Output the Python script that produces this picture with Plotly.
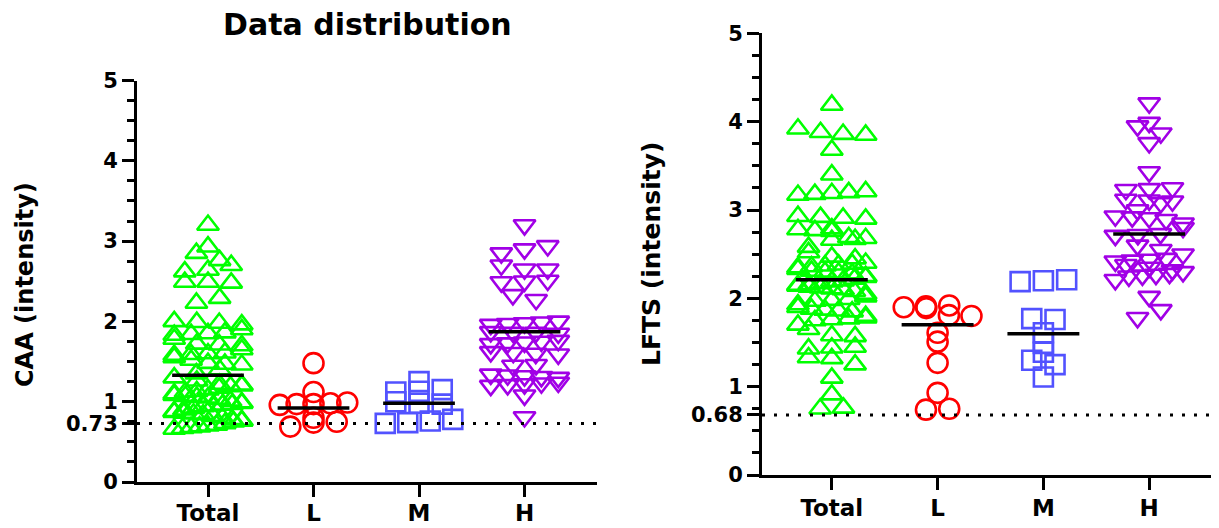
import numpy as np
import plotly.graph_objects as go

categories = ["Total", "L", "M", "H"]

caa_total = [3.20, 2.93, 2.85, 2.76, 2.70, 2.64, 2.62, 2.49, 2.48, 2.49, 2.29, 2.23,
             1.98, 1.96, 1.99, 2.00, 1.84, 1.85, 1.83, 1.86, 1.71, 1.70, 1.72,
             1.59, 1.60, 1.58, 1.61, 1.47, 1.46, 1.48,
             1.20, 1.21, 1.19, 1.22, 1.07, 1.08, 1.06, 0.97, 0.98, 0.96, 0.99,
             0.87, 0.88, 0.86, 0.76, 0.77, 0.75, 0.67, 0.68, 0.66,
             1.15, 1.12, 1.10, 1.03, 1.01, 0.94, 0.92, 0.90, 0.84, 0.82, 0.80,
             0.73, 0.71, 0.70, 0.69, 1.26, 1.30, 1.35, 1.40, 1.52, 1.55, 1.65,
             1.78, 1.90, 0.95, 0.85, 0.78, 1.05, 1.13, 1.17]
caa_L = [1.48, 1.12, 0.99, 0.97, 0.98, 0.96, 0.97, 0.80, 0.75, 0.74, 0.69]
caa_M = [1.25, 1.15, 1.13, 1.12, 1.00, 0.98, 0.97, 0.78, 0.76, 0.74, 0.73]
caa_H = [3.20, 2.94, 2.90, 2.85, 2.70, 2.65, 2.65, 2.50, 2.51, 2.49, 2.33, 2.27,
         1.98, 1.97, 1.99, 2.00, 1.96, 1.86, 1.87, 1.85, 1.86, 1.74, 1.75, 1.73,
         1.72, 1.76, 1.60, 1.61, 1.59, 1.62, 1.45, 1.46, 1.32, 1.31, 1.33, 1.30,
         1.34, 1.22, 1.21, 1.23, 1.20, 1.24, 1.08, 0.81]
caa_means = [1.33, 0.92, 0.98, 1.87]
caa_cutoff = 0.73

lfts_total = [4.19, 3.92, 3.88, 3.86, 3.85, 3.68, 3.40, 3.21, 3.19, 3.18, 3.20, 3.17,
              2.92, 2.91, 2.90, 2.93, 2.77, 2.78, 2.76, 2.79, 2.68, 2.67, 2.69, 2.66,
              2.58, 2.47, 2.38, 2.39, 2.37, 2.40, 2.36, 2.29, 2.30, 2.28, 2.31,
              2.15, 2.16, 2.14, 2.17, 2.13, 1.98, 1.99, 1.97, 1.86, 1.87, 1.85, 1.88,
              1.76, 1.77, 1.75, 1.78, 1.57, 1.58, 1.44, 1.45, 1.43, 1.32, 1.33,
              1.25, 1.10, 0.91, 0.75, 0.76,
              2.22, 2.20, 2.24, 2.25, 2.10, 2.08, 2.05, 2.02, 1.93, 1.90, 2.33,
              2.35, 2.19, 2.11, 1.80, 1.70, 1.65, 2.45, 2.52, 2.12]
lfts_L = [1.91, 1.92, 1.90, 1.89, 1.80, 1.81, 1.61, 1.51, 1.27, 0.93, 0.74, 0.75]
lfts_M = [2.20, 2.21, 2.19, 1.77, 1.76, 1.61, 1.49, 1.39, 1.25, 1.30, 1.11]
lfts_H = [4.21, 3.99, 3.95, 3.87, 3.76, 3.43, 3.24, 3.25, 3.23, 3.11, 3.10, 3.12,
          3.08, 2.92, 2.93, 2.91, 2.89, 2.85, 2.72, 2.71, 2.73, 2.43, 2.44, 2.42,
          2.45, 2.26, 2.27, 2.25, 2.28, 2.32, 2.21, 2.02, 1.87, 1.78, 2.55, 2.60,
          2.35, 2.38, 3.00, 2.80, 2.50, 2.30]
lfts_means = [2.21, 1.70, 1.60, 2.73]
lfts_cutoff = 0.68

symbols = ["triangle-up-open", "circle-open", "square-open", "triangle-down-open"]
colors = ["#00ff00", "#ff0000", "#5252ff", "#a100e6"]
sizes = [19, 20, 19, 19]

FONT = "DejaVu Sans"

# page body adds an 8px offset; figure is sized to fit the window
OFF = 8
W, H = 1219 - OFF, 528 - OFF


def px(xs):
    return (xs - OFF) / W


def py(ys):
    return (H - (ys - OFF)) / H


def swarm(vals, bin_h=0.1, step=0.22, maxw=0.32):
    vals = np.asarray(vals, dtype=float)
    order = np.argsort(vals)
    offs = np.zeros(len(vals))
    rows, cur, start = [], [], None
    for i in order:
        if cur and vals[i] - start > bin_h:
            rows.append(cur)
            cur = []
        if not cur:
            start = vals[i]
        cur.append(i)
    if cur:
        rows.append(cur)
    for k, r in enumerate(rows):
        n = len(r)
        if n == 1:
            continue
        w = min(maxw, step * (n - 1) / 2)
        pos = np.linspace(-w, w, n)
        if k % 2:
            pos = pos[::-1]
        for j, i in enumerate(r):
            offs[i] = pos[j]
    return offs


fig = go.Figure()


def add_panel(groups, means, cutoff, xa, ya):
    for gi, vals in enumerate(groups):
        off = swarm(vals)
        fig.add_trace(go.Scatter(
            x=gi + off, y=vals, mode="markers", xaxis=xa, yaxis=ya,
            marker=dict(symbol=symbols[gi], size=sizes[gi], color=colors[gi],
                        line=dict(width=2.6, color=colors[gi])),
            showlegend=False, hoverinfo="y"))
    for gi, m in enumerate(means):
        fig.add_trace(go.Scatter(
            x=[gi - 0.34, gi + 0.34], y=[m, m], mode="lines", xaxis=xa, yaxis=ya,
            line=dict(color="black", width=3.5), showlegend=False, hoverinfo="skip"))
    fig.add_shape(type="line", xref=xa + " domain", yref=ya, x0=0, x1=1,
                  y0=cutoff, y1=cutoff, line=dict(color="black", width=3, dash="3px,9px"))


add_panel([caa_total, caa_L, caa_M, caa_H], caa_means, caa_cutoff, "x", "y")
add_panel([lfts_total, lfts_L, lfts_M, lfts_H], lfts_means, lfts_cutoff, "x2", "y2")

axis_common = dict(showline=True, linewidth=3, linecolor="black", ticks="outside",
                   ticklen=12, tickwidth=3, tickcolor="black", showgrid=False,
                   zeroline=False, automargin=False)

fig.update_layout(
    template="none",
    width=W, height=H, margin=dict(l=0, r=0, t=0, b=0, pad=0, autoexpand=False),
    plot_bgcolor="white", paper_bgcolor="white",
    font=dict(family=FONT, color="black"),
    xaxis=dict(domain=[px(137), px(597)], range=[-0.673, 3.687],
               tickvals=[0, 1, 2, 3], ticktext=categories, anchor="y",
               ticklabelstandoff=-4,
               tickfont=dict(family=FONT, size=23, weight="bold"), **axis_common),
    yaxis=dict(domain=[py(482), py(80.5)], range=[0, 5], anchor="x",
               tickvals=[0, caa_cutoff, 1, 2, 3, 4, 5],
               ticktext=["0", f"{caa_cutoff:.2f}", "1", "2", "3", "4", "5"],
               tickfont=dict(family=FONT, size=21, weight="bold"),
               minor=dict(dtick=0.25, ticks="outside", ticklen=7, tickwidth=3,
                          tickcolor="black"), **axis_common),
    xaxis2=dict(domain=[px(762), px(1219)], range=[-0.66, 3.66],
                tickvals=[0, 1, 2, 3], ticktext=categories, anchor="y2",
                ticklabelstandoff=-2,
                tickfont=dict(family=FONT, size=23, weight="bold"), **axis_common),
    yaxis2=dict(domain=[py(475), py(33.4)], range=[0, 5], anchor="x2",
                tickvals=[0, lfts_cutoff, 1, 2, 3, 4, 5],
                ticktext=["0", f"{lfts_cutoff:.2f}", "1", "2", "3", "4", "5"],
                tickfont=dict(family=FONT, size=21, weight="bold"),
                minor=dict(dtick=0.25, ticks="outside", ticklen=7, tickwidth=3,
                           tickcolor="black"), **axis_common),
    annotations=[
        dict(text="Data distribution", x=px(367), y=py(25), xref="paper",
             yref="paper", showarrow=False, xanchor="center", yanchor="middle",
             font=dict(family=FONT, size=30, weight="bold")),
        dict(text="CAA (intensity)", x=px(25), y=py(285), xref="paper",
             yref="paper", showarrow=False, textangle=-90, xanchor="center",
             yanchor="middle", font=dict(family=FONT, size=24, weight="bold")),
        dict(text="LFTS (intensity)", x=px(651), y=py(254), xref="paper",
             yref="paper", showarrow=False, textangle=-90, xanchor="center",
             yanchor="middle", font=dict(family=FONT, size=25, weight="bold")),
    ],
)

fig.write_html("out.html")
